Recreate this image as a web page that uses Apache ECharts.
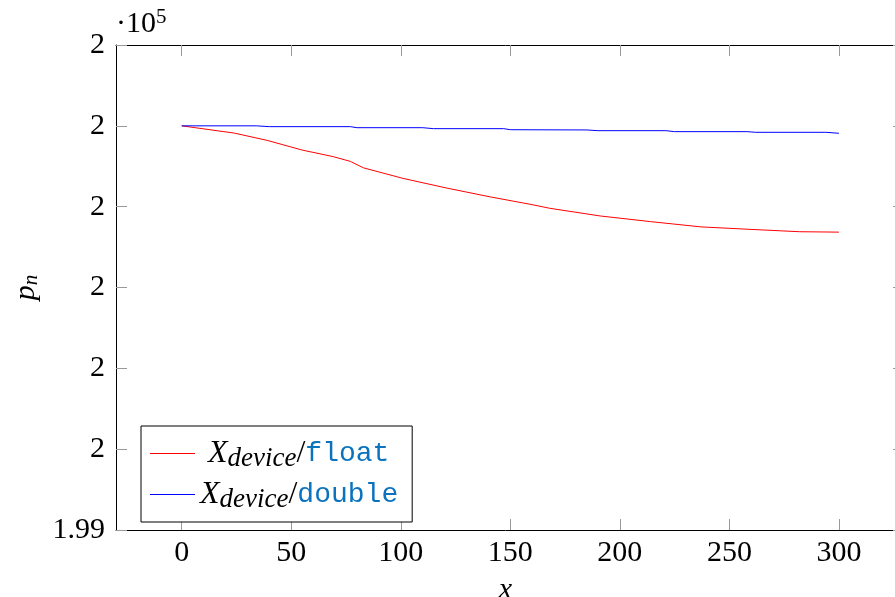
<!DOCTYPE html>
<html>
<head>
<meta charset="utf-8">
<script src="https://cdn.jsdelivr.net/npm/echarts@6/dist/echarts.min.js"></script>
<style>
  html, body { margin: 0; padding: 0; background: #fff; overflow: hidden; }
  #chart { width: 895px; height: 597px; }
</style>
</head>
<body>
<div id="chart"></div>
<script>
const xTicks = [0, 50, 100, 150, 200, 250, 300];
const yTickLabels = ["1.99", "2", "2", "2", "2", "2", "2"];

// y is in tick steps above the bottom tick (1.99 x 10^5)
const floatX = [0, 24, 39, 55, 69, 77, 83, 101, 121, 141, 159, 168, 191, 214, 237, 259, 282, 300];
const floatY = [5.0, 4.91, 4.82, 4.70, 4.62, 4.56, 4.48, 4.35, 4.23, 4.12, 4.03, 3.98, 3.885, 3.815, 3.75, 3.72, 3.69, 3.685];

const doubleX = [0, 34, 40, 77, 80, 110, 115, 147, 150, 185, 190, 221, 225, 258, 262, 294, 300];
const doubleY = [5.0, 5.0, 4.99, 4.99, 4.977, 4.977, 4.965, 4.965, 4.952, 4.949, 4.94, 4.94, 4.928, 4.928, 4.92, 4.92, 4.908];

const serif = "'Liberation Serif', 'DejaVu Serif', serif";
const mono = "'Liberation Mono', 'DejaVu Sans Mono', monospace";

let myChart = echarts.init(document.getElementById("chart"));

const tickStyle = { color: "#999", width: 1 };
const lineStyle = { color: "#000", width: 1 };

const legendRich = {
  sp: { width: 8, lineHeight: 34 },
  X: { fontFamily: serif, fontStyle: "italic", fontSize: 32, lineHeight: 34, color: "#000" },
  sub: { fontFamily: serif, fontStyle: "italic", fontSize: 27, lineHeight: 24, padding: [10, 0, 0, 0], color: "#000" },
  sl: { fontFamily: serif, fontSize: 32, lineHeight: 34, color: "#000" },
  tt: { fontFamily: mono, fontSize: 28, lineHeight: 34, color: "#0b72bd" },
};

let option = {
  animation: false,
  title: {
    text: "{a|·10}{b|5}",
    left: 116,
    top: 7,
    padding: 0,
    textStyle: {
      fontWeight: "normal",
      rich: {
        a: { fontFamily: serif, fontWeight: "normal", fontSize: 30, lineHeight: 34, color: "#000" },
        b: { fontFamily: serif, fontWeight: "normal", fontSize: 21, lineHeight: 21, padding: [0, 0, 13, 0], color: "#000" },
      },
    },
  },
  legend: {
    orient: "vertical",
    left: 141,
    top: 426,
    padding: [9, 14, 9, 9],
    itemGap: 4,
    itemWidth: 45,
    itemHeight: 1,
    icon: "rect",
    backgroundColor: "#fff",
    borderColor: "#000",
    borderWidth: 1,
    borderRadius: 0,
    data: ["float", "double"],
    formatter: function (name) {
      if (name === "float") {
        return "{sp| }{X|X}{sub|device}{sl|/}{tt|float}";
      }
      return "{X|X}{sub|device}{sl|/}{tt|double}";
    },
    textStyle: { rich: legendRich, padding: [0, 0, 0, 0] },
  },
  grid: {
    left: 116,
    top: 45,
    right: 0,
    bottom: 67,
    containLabel: false,
    outerBoundsMode: "none",
  },
  xAxis: [
    {
      type: "value",
      position: "bottom",
      min: -30,
      max: 325.6,
      name: "x",
      nameLocation: "middle",
      nameGap: 35,
      nameTextStyle: { fontFamily: serif, fontStyle: "italic", fontSize: 30, lineHeight: 34, color: "#000" },
      axisLine: { onZero: false, lineStyle: lineStyle },
      axisTick: { inside: true, length: 11, customValues: xTicks, lineStyle: tickStyle },
      axisLabel: { customValues: xTicks, fontFamily: serif, fontSize: 30, color: "#000", margin: 8 },
      splitLine: { show: false },
    },
    {
      type: "value",
      position: "top",
      min: -30,
      max: 325.6,
      axisLine: { onZero: false, lineStyle: lineStyle },
      axisTick: { inside: true, length: 11, customValues: xTicks, lineStyle: tickStyle },
      axisLabel: { show: false },
      splitLine: { show: false },
    },
  ],
  yAxis: [
    {
      type: "value",
      position: "left",
      min: 0,
      max: 6,
      interval: 1,
      name: "{p|p}{n|n}",
      nameLocation: "middle",
      nameGap: 68,
      nameTextStyle: {
        rich: {
          p: { fontFamily: serif, fontStyle: "italic", fontSize: 30, lineHeight: 34, color: "#000" },
          n: { fontFamily: serif, fontStyle: "italic", fontSize: 21, lineHeight: 24, padding: [10, 0, 0, 0], color: "#000" },
        },
      },
      axisLine: { onZero: false, lineStyle: lineStyle },
      axisTick: { inside: true, length: 11, lineStyle: tickStyle },
      axisLabel: {
        fontFamily: serif,
        fontSize: 30,
        color: "#000",
        margin: 11,
        formatter: function (v) {
          return yTickLabels[Math.round(v)];
        },
      },
      splitLine: { show: false },
    },
    {
      type: "value",
      position: "right",
      min: 0,
      max: 6,
      interval: 1,
      // the frame's right edge lies just outside the picture; only tick stubs show
      axisLine: { show: false, onZero: false },
      axisTick: { inside: true, length: 2, lineStyle: tickStyle },
      axisLabel: { show: false },
      splitLine: { show: false },
    },
  ],
  series: [
    {
      name: "float",
      type: "line",
      symbol: "none",
      lineStyle: { color: "#ff0000", width: 1 },
      itemStyle: { color: "#ff0000" },
      data: floatX.map((x, i) => [x, floatY[i]]),
    },
    {
      name: "double",
      type: "line",
      symbol: "none",
      lineStyle: { color: "#0000ff", width: 1 },
      itemStyle: { color: "#0000ff" },
      data: doubleX.map((x, i) => [x, doubleY[i]]),
    },
  ],
};

myChart.setOption(option && option);
</script>
</body>
</html>
